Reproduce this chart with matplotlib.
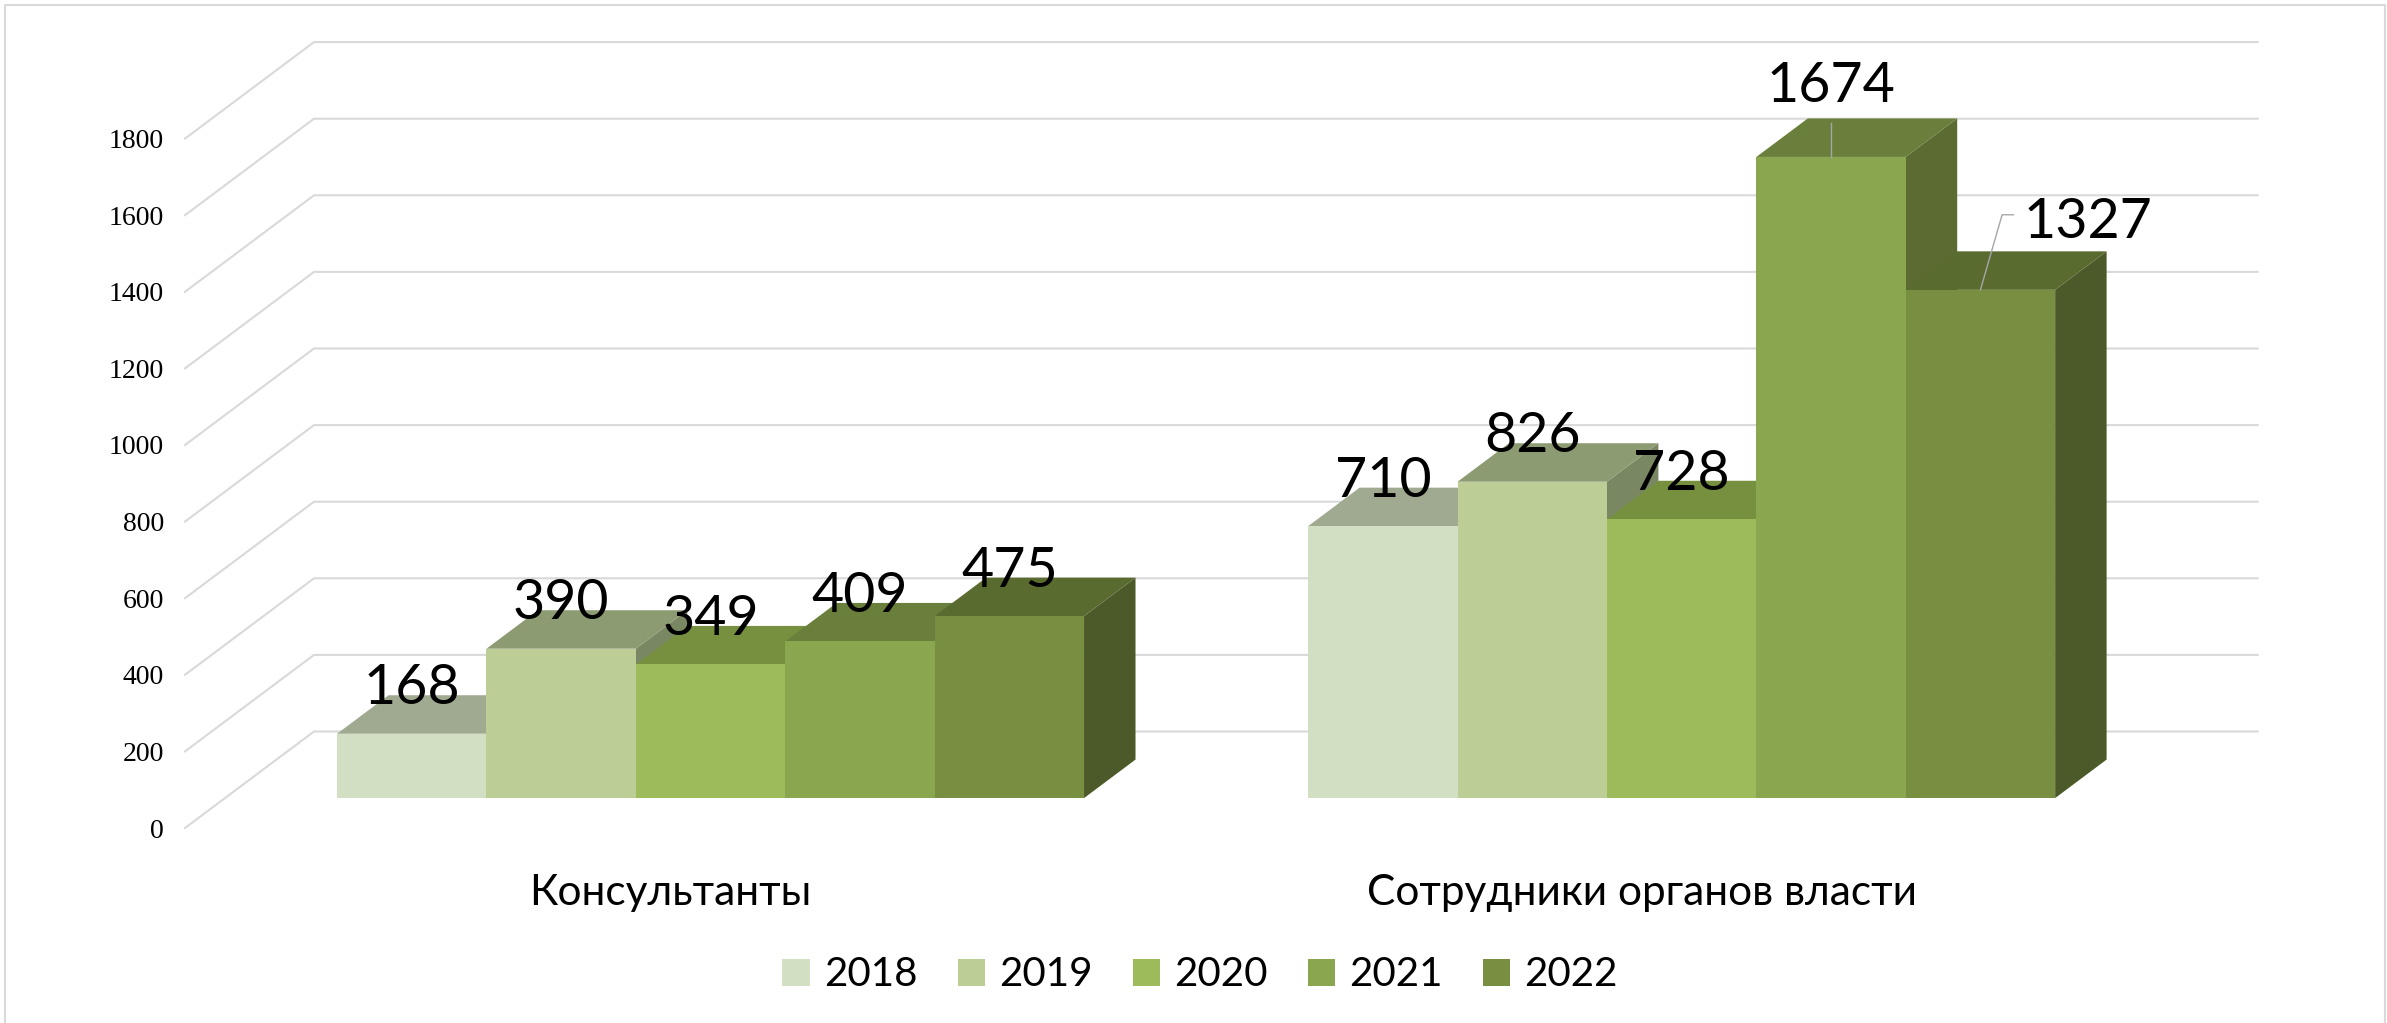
import matplotlib
matplotlib.use("Agg")
import matplotlib.pyplot as plt
from matplotlib.patches import Polygon, Patch
from matplotlib.lines import Line2D

plt.rcParams['font.family'] = ['Lato', 'Open Sans', 'DejaVu Sans']

categories = ['Консультанты', 'Сотрудники органов власти']
years = ['2018', '2019', '2020', '2021', '2022']
consultants = [168, 390, 349, 409, 475]
officials = [710, 826, 728, 1674, 1327]
yticks = [0, 200, 400, 600, 800, 1000, 1200, 1400, 1600, 1800]

front_colors = ['#D3DFC2', '#BCCD96', '#9DBB5B', '#8AA64F', '#788E41']
top_colors = ['#A0AA90', '#8D9B72', '#769040', '#6A7F3B', '#5A6B30']
side_colors = ['#8C9780', '#7A8763', '#67803A', '#5B6B32', '#4B5A28']
grid_color = '#D9D9D9'

W, H = 2387, 1023
PX_U = 149.4      # px per bar width
PX_V = 0.383      # px per value unit
X0 = 185.0        # px of left wall, front floor
Y0 = 828.0        # px of value 0, front floor
DEPTH_X = 129.0   # px of wall depth
DEPTH_Y = 96.5
U_LEFT = -0.75
U_RIGHT = 12.26
BAR_D0, BAR_D1 = 0.31, 0.709

fig = plt.figure(figsize=(W / 100, H / 100), dpi=100, facecolor='white')
ax = fig.add_axes([0, 0, 1, 1])
ax.set_xlim(U_LEFT - X0 / PX_U, U_LEFT + (W - X0) / PX_U)
ax.set_ylim((Y0 - H) / PX_V, Y0 / PX_V)
ax.axis('off')


def proj(u, v, d):
    """Oblique projection of (category position, value, depth) on the axes."""
    return (u + d * DEPTH_X / PX_U, v + d * DEPTH_Y / PX_V)


# walls and gridlines
for t in yticks:
    xs, ys = zip(proj(U_LEFT, t, 0), proj(U_LEFT, t, 1), proj(U_RIGHT, t, 1))
    ax.plot(xs, ys, color=grid_color, lw=1.5, zorder=1, solid_joinstyle='miter')
    ax.annotate(str(t), xy=proj(U_LEFT, t, 0), xytext=(-21, 0), textcoords='offset pixels',
                ha='right', va='center_baseline', family='Liberation Serif', fontsize=20,
                color='black', annotation_clip=False)


def draw_bar(u, v, i):
    pts = lambda *a: [proj(*p) for p in a]
    side = pts((u + 1, 0, BAR_D0), (u + 1, 0, BAR_D1), (u + 1, v, BAR_D1), (u + 1, v, BAR_D0))
    top = pts((u, v, BAR_D0), (u + 1, v, BAR_D0), (u + 1, v, BAR_D1), (u, v, BAR_D1))
    front = pts((u, 0, BAR_D0), (u + 1, 0, BAR_D0), (u + 1, v, BAR_D0), (u, v, BAR_D0))
    z = 2 + i * 0.1
    ax.add_patch(Polygon(side, closed=True, fc=side_colors[i], ec='none', zorder=z))
    ax.add_patch(Polygon(top, closed=True, fc=top_colors[i], ec='none', zorder=z))
    ax.add_patch(Polygon(front, closed=True, fc=front_colors[i], ec='none', zorder=z))


group_start = [0.0, 6.5]
group_values = [consultants, officials]
for g, vals in enumerate(group_values):
    for i, v in enumerate(vals):
        draw_bar(group_start[g] + i, v, i)

# data labels: value + offset above the front edge of the bar
LABEL_UP = 130
for g, vals in enumerate(group_values):
    for i, v in enumerate(vals):
        u = group_start[g] + i + 0.5
        x, y = proj(u, v, BAR_D0)
        dx, dy = 0.0, LABEL_UP
        if v == 1674:
            dy = 197
            ax.plot([x, x], [y, y + 89], color='#A6A6A6', lw=1.0, zorder=5)
        if v == 1327:
            dx, dy = 0.72, 189
            ax.plot([x, x + 0.145, x + 0.22], [y, y + 196, y + 196],
                    color='#A6A6A6', lw=1.0, zorder=5)
        ax.text(x + dx, y + dy, str(v), ha='center', va='center_baseline', fontsize=40,
                color='black', zorder=6)

# category labels
for g, c in enumerate(categories):
    x, y = proj(group_start[g] + 2.5, -161, 0)
    ax.text(x, y, c, ha='center', va='center_baseline', fontsize=30.5, color='black')

# legend
handles = [Patch(facecolor=front_colors[i], edgecolor='none', label=years[i]) for i in range(5)]
fig.legend(handles=handles, loc='center', bbox_to_anchor=(1200 / W, 1 - 975 / H), ncol=5,
           frameon=False, fontsize=29, handlelength=0.675, handleheight=0.675,
           handletextpad=0.35, columnspacing=1.0, borderpad=0, labelcolor='black')

# outer frame (bottom edge lies outside the picture)
frame_x = [5 / W, 5 / W, 2385 / W, 2385 / W]
frame_y = [0, 1 - 5 / H, 1 - 5 / H, 0]
fig.add_artist(Line2D(frame_x, frame_y, color=grid_color, lw=1.5, transform=fig.transFigure))

fig.savefig('out.png', dpi=100)
